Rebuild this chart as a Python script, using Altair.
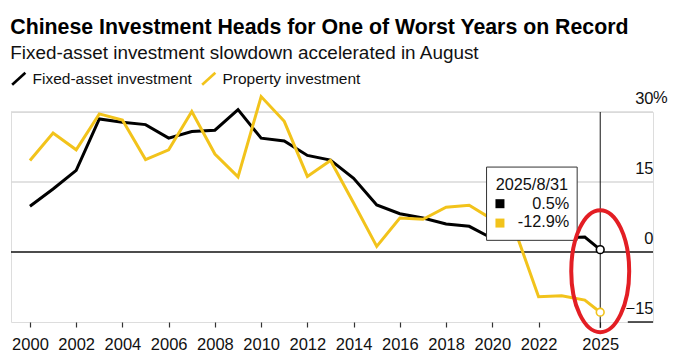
import altair as alt
import pandas as pd

# ---------------- data ----------------
years = list(range(2000, 2025)) + [2024.667]          # last point = 2025/8/31 (YTD)
fixed_asset = [9.8, 13.5, 17.5, 28.5, 27.8, 27.3, 24.4, 25.8, 26.1, 30.5,
               24.4, 23.8, 20.7, 19.7, 15.8, 10.1, 8.2, 7.3, 6.0, 5.5,
               2.9, 4.9, 5.1, 3.0, 3.2, 0.5]
property_inv = [19.6, 25.5, 21.9, 29.6, 28.3, 19.8, 21.9, 30.1, 21.0, 16.1,
                33.3, 28.0, 16.2, 19.6, 10.5, 1.2, 7.3, 7.0, 9.6, 10.0,
                7.0, 4.4, -9.6, -9.4, -10.3, -12.9]
series = ["Fixed-asset investment", "Property investment"]
x_ticks = [2000, 2002, 2004, 2006, 2008, 2010, 2012, 2014, 2016, 2018, 2020, 2022, 2024.667]
y_ticks = [-15, 0, 15, 30]
grid_vals = [30, 15]
last_date = "2025/8/31"

FONT = "Liberation Sans"
BLACK = "#000000"
YELLOW = "#F2C31B"

long = pd.DataFrame({
    "year": years * 2,
    "value": fixed_asset + property_inv,
    "series": [series[0]] * len(years) + [series[1]] * len(years),
})
last = long[long["year"] == years[-1]].copy()

W, H = 642, 210
xs = alt.Scale(domain=[1999.18, 2026.95], nice=False, zero=False)
ys = alt.Scale(domain=[-15, 30], nice=False, zero=False)
color_scale = alt.Scale(domain=series, range=[BLACK, YELLOW])

x_axis = alt.Axis(values=x_ticks, format="d", title=None, grid=False, domain=False,
                  tickSize=5, tickColor="#333333", tickWidth=1.2,
                  labelFontSize=16.5, labelFont=FONT, labelColor="#111111",
                  labelBaseline="alphabetic", labelPadding=22, labelFlush=False,
                  labelOverlap=False)
y_axis = alt.Axis(orient="right", values=y_ticks, title=None, grid=False, domain=False,
                  ticks=False, tickSize=0, labelAlign="right", labelBaseline="alphabetic",
                  labelOffset=-9, labelPadding=0, labelFontSize=16.5, labelFont=FONT,
                  labelColor="#111111", labelFlush=False, labelOverlap=False)

# gridlines
grid = alt.Chart(pd.DataFrame({"value": grid_vals})).mark_rule(
    color="#d9d9d9", strokeWidth=1.3).encode(y=alt.Y("value:Q", scale=ys, axis=y_axis))
zero = alt.Chart(pd.DataFrame({"value": [0]})).mark_rule(
    color="#111111", strokeWidth=1.4).encode(y=alt.Y("value:Q", scale=ys))
bottom_tick = alt.Chart(pd.DataFrame({"x": [2025.86], "x2": [2026.95], "value": [-15]})).mark_rule(
    color="#111111", strokeWidth=1.4).encode(
    x=alt.X("x:Q", scale=xs), x2="x2:Q", y=alt.Y("value:Q", scale=ys))

vline = alt.Chart(pd.DataFrame({"year": [years[-1]], "top": [30], "bot": [-16.3]})).mark_rule(
    color="#111111", strokeWidth=1).encode(
    x=alt.X("year:Q", scale=xs, axis=x_axis), y=alt.Y("top:Q", scale=ys), y2="bot:Q")

lines = alt.Chart(long).mark_line(strokeWidth=3, strokeJoin="miter").encode(
    x=alt.X("year:Q", scale=xs, axis=x_axis),
    y=alt.Y("value:Q", scale=ys, axis=y_axis),
    color=alt.Color("series:N", scale=color_scale, legend=alt.Legend(
        orient="none", legendX=0, legendY=-41, direction="horizontal", title=None,
        symbolType="M-1.1,1L1.1,-1", symbolSize=144, symbolStrokeWidth=2.6,
        labelFontSize=15.5, labelFont=FONT, labelColor="#111111", labelOffset=6,
        columnPadding=4, padding=0)),
)

ends = alt.Chart(last).mark_point(filled=True, fill="white", size=60, strokeWidth=1.6,
                                   opacity=1).encode(
    x=alt.X("year:Q", scale=xs), y=alt.Y("value:Q", scale=ys),
    stroke=alt.Stroke("series:N", scale=color_scale, legend=None))

# tooltip box
box = alt.Chart(pd.DataFrame({"x": [2019.75], "x2": [2023.67], "y": [18.2], "y2": [2.5]})).mark_rect(
    fill="white", stroke="#333333", strokeWidth=1).encode(
    x=alt.X("x:Q", scale=xs), x2="x2:Q", y=alt.Y("y:Q", scale=ys), y2="y2:Q")
box_title = alt.Chart(pd.DataFrame({"x": [2021.71], "y": [13.35], "t": [last_date]})).mark_text(
    font=FONT, fontSize=16.3, color="#111111", align="center", baseline="alphabetic").encode(
    x=alt.X("x:Q", scale=xs), y=alt.Y("y:Q", scale=ys), text="t:N")
box_sq = alt.Chart(pd.DataFrame({"x": [2020.33, 2020.33], "y": [10.35, 6.2], "series": series})).mark_square(
    size=81, opacity=1).encode(
    x=alt.X("x:Q", scale=xs), y=alt.Y("y:Q", scale=ys),
    color=alt.Color("series:N", scale=color_scale, legend=None))
box_vals = alt.Chart(pd.DataFrame({"x": [2023.33, 2023.33], "y": [9.28, 5.36],
                                   "t": [f"{fixed_asset[-1]}%", f"{property_inv[-1]}%"]})).mark_text(
    font=FONT, fontSize=16.3, color="#111111", align="right", baseline="alphabetic").encode(
    x=alt.X("x:Q", scale=xs), y=alt.Y("y:Q", scale=ys), text="t:N")

pct = alt.Chart(pd.DataFrame({"x": [2026.95], "y": [30], "t": ["%"]})).mark_text(
    font=FONT, fontSize=16.5, color="#111111", align="left", baseline="alphabetic", dy=-9).encode(
    x=alt.X("x:Q", scale=xs), y=alt.Y("y:Q", scale=ys), text="t:N")

ellipse_path = ("M0,-1 C0.262,-1 0.475,-0.552 0.475,0 C0.475,0.552 0.262,1 0,1 "
                "C-0.262,1 -0.475,0.552 -0.475,0 C-0.475,-0.552 -0.262,-1 0,-1 Z")
ellipse = alt.Chart(pd.DataFrame({"x": [years[-1]], "y": [-4.1]})).mark_point(
    shape=ellipse_path, size=14884, filled=False, stroke="#E31E24", strokeWidth=4,
    opacity=1, dx=-2).encode(x=alt.X("x:Q", scale=xs), y=alt.Y("y:Q", scale=ys))

chart = alt.layer(grid, zero, bottom_tick, lines, vline, ends, box, box_title, box_sq,
                  box_vals, pct, ellipse).properties(
    width=W, height=H,
    autosize=alt.AutoSizeParams(type="none"),
    padding={"left": 3, "top": 104, "right": 18, "bottom": 30},
    title=alt.TitleParams(
        text="Chinese Investment Heads for One of Worst Years on Record",
        subtitle="Fixed-asset investment slowdown accelerated in August",
        anchor="start", font=FONT, fontSize=21.3, fontWeight="bold", color="#000000",
        subtitleFont=FONT, subtitleFontSize=18.9, subtitleColor="#111111",
        subtitlePadding=6, offset=8),
).configure_view(stroke=None).configure(background="white")

chart.save("out.html", embed_options={"renderer": "svg", "actions": False})
